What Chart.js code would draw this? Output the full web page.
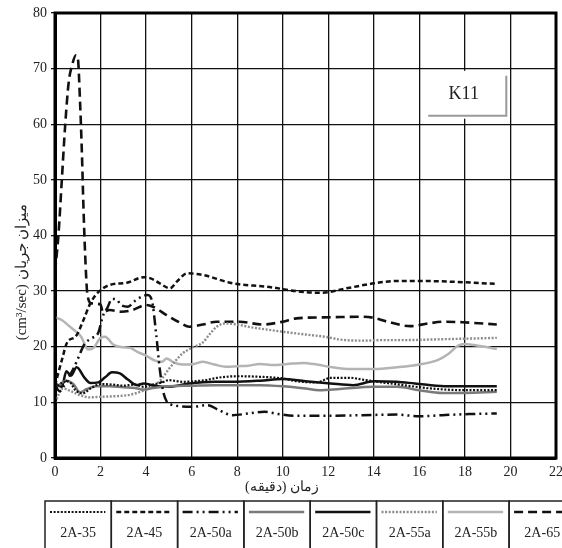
<!DOCTYPE html>
<html>
<head>
<meta charset="utf-8">
<script src="https://cdn.jsdelivr.net/npm/chart.js@4"></script>
<style>
  html, body { margin: 0; padding: 0; background: #fff; }
  canvas { display: block; }
</style>
</head>
<body>
<canvas id="chart" width="562" height="548"></canvas>
<script>
// Flow rate versus time for the K11 runs
const seriesNames = ['2A-35', '2A-45', '2A-50a', '2A-50b', '2A-50c', '2A-55a', '2A-55b', '2A-65'];
const panelLabel = 'K11';
const xAxisTitle = 'زمان (دقیقه)';
const yAxisTitle = '(cm³/sec) میزان جریان';
const xTickValues = [0, 2, 4, 6, 8, 10, 12, 14, 16, 18, 20, 22];
const yTickValues = [0, 10, 20, 30, 40, 50, 60, 70, 80];

// time (min) / flow (cm3/sec) per run
const t35 = [0,0.3,0.6,0.9,1.2,1.6,2.0,2.5,3.0,3.5,3.9,4.3,4.7,5.0,5.6,6.6,7.1,8.0,9.0,10.0,10.6,11.5,12.1,13.0,13.5,14.0,15.3,16.5,17.9,19.4];
const v35 = [12.5,13.5,13.8,12.2,11.6,12.6,13.3,13.2,13.0,13.2,12.8,13.2,13.6,14.0,13.7,14.0,14.4,14.7,14.6,14.3,13.8,13.6,14.4,14.4,14.1,13.8,13.1,12.5,12.2,12.2];

const t45 = [0,0.3,0.55,0.9,1.25,1.55,1.9,2.4,3.15,3.9,4.2,4.6,5.05,5.35,5.8,6.5,7.8,9.3,10.8,11.7,12.8,14.0,14.9,16.5,17.9,19.4];
const v45 = [13.0,17.6,20.9,21.8,24.8,27.8,29.8,31.1,31.5,32.5,32.3,31.4,30.5,31.7,33.2,32.9,31.4,30.8,29.9,29.7,30.5,31.4,31.8,31.8,31.6,31.3];

const t50a = [0,0.2,0.4,0.6,0.8,1.0,1.3,1.6,1.9,2.1,2.3,2.5,2.7,2.9,3.2,3.5,3.8,4.05,4.25,4.45,4.6,4.75,4.9,5.1,5.5,6.0,6.7,7.2,7.8,8.5,9.2,9.8,10.5,12.0,13.5,15.0,16.0,17.0,18.2,19.4];
const v50a = [13.2,12.0,13.0,14.5,16.0,17.8,20.5,21.5,22.5,25.5,27.0,28.6,28.5,27.5,27.2,28.2,29.0,29.3,28.4,22.0,16.0,12.0,10.2,9.6,9.3,9.2,9.5,8.6,7.7,8.0,8.3,7.9,7.6,7.6,7.7,7.8,7.5,7.7,7.9,8.0];

const t50b = [0,0.5,0.8,1.1,1.4,1.8,2.4,3.0,3.5,3.9,4.3,5.0,6.0,7.0,8.0,9.0,10.0,11.0,11.6,12.5,14.0,15.0,16.0,17.0,18.0,19.4];
const v50b = [12.5,13.9,13.3,11.8,12.4,12.9,12.9,12.7,12.6,12.3,12.6,12.9,13.0,13.1,13.1,13.1,12.9,12.5,12.2,12.4,12.8,12.8,12.2,11.7,11.7,11.9];

const t50c = [0,0.3,0.5,0.7,0.95,1.3,1.55,1.9,2.2,2.5,2.85,3.2,3.6,3.9,4.5,5.0,5.9,7.0,7.8,9.0,10.0,11.0,12.1,13.1,14.0,15.0,15.8,17.1,18.2,19.4];
const v50c = [13.4,12.8,15.6,14.8,16.3,14.4,13.5,13.6,14.5,15.4,15.2,14.1,13.1,13.4,12.9,12.8,13.4,13.7,13.7,13.9,14.2,13.8,13.4,13.1,13.8,13.7,13.4,12.9,12.9,12.9];

const t55a = [0,0.35,0.7,1.1,1.5,2.0,2.6,3.2,3.6,4.0,4.4,4.7,5.0,5.3,5.6,6.0,6.5,6.8,7.1,7.5,8.0,8.6,9.3,10.0,11.0,12.0,12.5,13.5,14.5,15.5,16.5,17.5,18.5,19.4];
const v55a = [10.0,12.5,12.0,11.3,10.9,11.0,11.1,11.3,11.7,12.3,13.1,14.3,16.0,17.5,18.8,19.8,20.8,22.3,23.6,24.2,24.0,23.5,23.1,22.7,22.2,21.7,21.3,21.1,21.2,21.2,21.3,21.4,21.5,21.6];

const t55b = [0,0.3,0.6,0.9,1.15,1.45,1.7,2.0,2.2,2.55,3.0,3.3,3.6,4.0,4.4,4.7,4.9,5.2,5.6,6.1,6.5,7.0,7.5,8.0,8.5,9.0,9.6,10.2,10.9,11.5,12.2,13.0,14.0,15.0,16.0,16.8,17.3,17.7,18.0,18.4,19.0,19.4];
const v55b = [25.3,24.8,23.8,22.8,21.8,19.5,19.8,21.6,21.8,20.4,19.9,19.8,19.1,18.4,17.5,17.3,17.9,17.2,16.8,16.9,17.3,16.8,16.4,16.5,16.6,16.9,16.7,16.9,17.1,16.8,16.3,16.0,16.0,16.3,16.8,17.6,18.8,20.2,20.5,20.3,19.9,19.6];

const t65 = [0,0.15,0.3,0.45,0.6,0.75,0.92,1.0,1.1,1.18,1.25,1.32,1.42,1.6,2.0,2.1,2.4,2.9,3.4,4.0,4.3,4.9,5.5,5.9,6.5,7.1,8.1,9.1,10.0,10.6,12.1,13.4,14.0,14.6,15.6,16.4,17.1,17.9,19.4];
const v65 = [33.4,40,50,60,67.5,70.6,72.4,72.0,64,55,45,37,29.5,27.8,27.6,26.2,26.6,26.3,26.6,27.5,27.2,25.7,24.3,23.6,24.0,24.5,24.5,24.0,24.5,25.1,25.3,25.4,25.2,24.5,23.7,24.2,24.5,24.4,24.0];

const pairs = (ts, vs) => ts.map((t, i) => ({ x: t, y: vs[i] }));

const styles = [
  { color: '#111', dash: [2, 1.6], width: 2.2 },
  { color: '#111', dash: [5, 3], width: 2.5 },
  { color: '#111', dash: [10, 4, 2, 4, 2, 4], width: 2.5 },
  { color: '#7a7a7a', dash: [], width: 2.5 },
  { color: '#111', dash: [], width: 2.5 },
  { color: '#8c8c8c', dash: [2, 1.6], width: 2.4 },
  { color: '#b4b4b4', dash: [], width: 2.5 },
  { color: '#111', dash: [9, 5], width: 2.6 }
];

const seriesData = [
  pairs(t35, v35), pairs(t45, v45), pairs(t50a, v50a), pairs(t50b, v50b),
  pairs(t50c, v50c), pairs(t55a, v55a), pairs(t55b, v55b), pairs(t65, v65)
];

const serif = '"Liberation Serif", "DejaVu Serif", serif';

// Panel tag in the upper right of the plot
const panelTag = {
  id: 'panelTag',
  afterDatasetsDraw(chart) {
    const { ctx, scales: { x, y } } = chart;
    const left = x.getPixelForValue(16.3), right = x.getPixelForValue(19.95);
    const top = y.getPixelForValue(69.6), bottom = y.getPixelForValue(61.0);
    ctx.save();
    ctx.fillStyle = '#fff';
    ctx.fillRect(left, top, right - left, bottom - top);
    ctx.strokeStyle = '#999';
    ctx.lineWidth = 2;
    ctx.beginPath();
    ctx.moveTo(right - 3, top + 5);
    ctx.lineTo(right - 3, bottom - 3);
    ctx.lineTo(left + 2, bottom - 3);
    ctx.stroke();
    ctx.fillStyle = '#222';
    ctx.font = '18px ' + serif;
    ctx.textAlign = 'center';
    ctx.textBaseline = 'middle';
    ctx.fillText(panelLabel, (left + right) / 2 - 4, (top + bottom) / 2 - 1);
    ctx.restore();
  }
};

// Heavy frame, axis titles and the table legend underneath
const frameAndLegend = {
  id: 'frameAndLegend',
  afterDraw(chart) {
    const { ctx, chartArea: a } = chart;
    ctx.save();
    ctx.strokeStyle = '#000';
    ctx.lineWidth = 3;
    ctx.strokeRect(a.left, a.top, a.right - a.left, a.bottom - a.top);

    // axis titles
    ctx.fillStyle = '#222';
    ctx.textAlign = 'center';
    ctx.textBaseline = 'middle';
    ctx.font = '14px ' + serif;
    ctx.direction = 'rtl';
    ctx.fillText(xAxisTitle, 282, 487);
    ctx.direction = 'ltr';
    ctx.save();
    ctx.translate(22, 272);
    ctx.rotate(-Math.PI / 2);
    ctx.font = '15px ' + serif;
    ctx.fillText(yAxisTitle, 0, 0);
    ctx.restore();

    // legend table
    const top = 501, cellW = 66.3, left0 = 45, rowH = 60;
    ctx.lineWidth = 1.5;
    ctx.strokeStyle = '#222';
    chart.data.datasets.forEach((ds, i) => {
      const cx = left0 + i * cellW;
      ctx.strokeRect(cx, top, cellW, rowH);
      ctx.save();
      ctx.strokeStyle = ds.borderColor;
      ctx.lineWidth = ds.borderWidth;
      ctx.setLineDash(ds.borderDash);
      ctx.beginPath();
      ctx.moveTo(cx + 5, 512);
      ctx.lineTo(cx + cellW - 6, 512);
      ctx.stroke();
      ctx.restore();
      ctx.fillStyle = '#222';
      ctx.font = '14px ' + serif;
      ctx.fillText(ds.label, cx + cellW / 2, 533);
    });
    ctx.restore();
  }
};

new Chart(document.getElementById('chart'), {
  type: 'line',
  data: {
    datasets: seriesNames.map((name, i) => ({
      label: name,
      data: seriesData[i],
      borderColor: styles[i].color,
      borderDash: styles[i].dash,
      borderWidth: styles[i].width,
      pointRadius: 0,
      fill: false,
      cubicInterpolationMode: 'monotone'
    }))
  },
  options: {
    responsive: false,
    animation: false,
    layout: { padding: { top: 13, right: 6, left: 0, bottom: 0 } },
    plugins: { legend: { display: false }, tooltip: { enabled: false } },
    scales: {
      x: {
        type: 'linear',
        min: 0, max: 22,
        afterBuildTicks(scale) { scale.ticks = xTickValues.map(v => ({ value: v })); },
        afterFit(scale) { scale.height = 90; scale.paddingLeft = 0; scale.paddingRight = 0; },
        grid: { color: '#111', lineWidth: 1.3, drawTicks: false },
        border: { display: true, color: '#000', width: 3 },
        ticks: { color: '#222', font: { family: serif, size: 14 }, padding: 6, maxRotation: 0 }
      },
      y: {
        min: 0, max: 80,
        afterBuildTicks(scale) { scale.ticks = yTickValues.map(v => ({ value: v })); },
        afterFit(scale) { scale.width = 55; },
        grid: { color: '#111', lineWidth: 1.3, tickLength: 4 },
        border: { display: true, color: '#000', width: 3 },
        ticks: { color: '#222', font: { family: serif, size: 14 }, padding: 4 }
      }
    }
  },
  plugins: [panelTag, frameAndLegend]
});
</script>
</body>
</html>
